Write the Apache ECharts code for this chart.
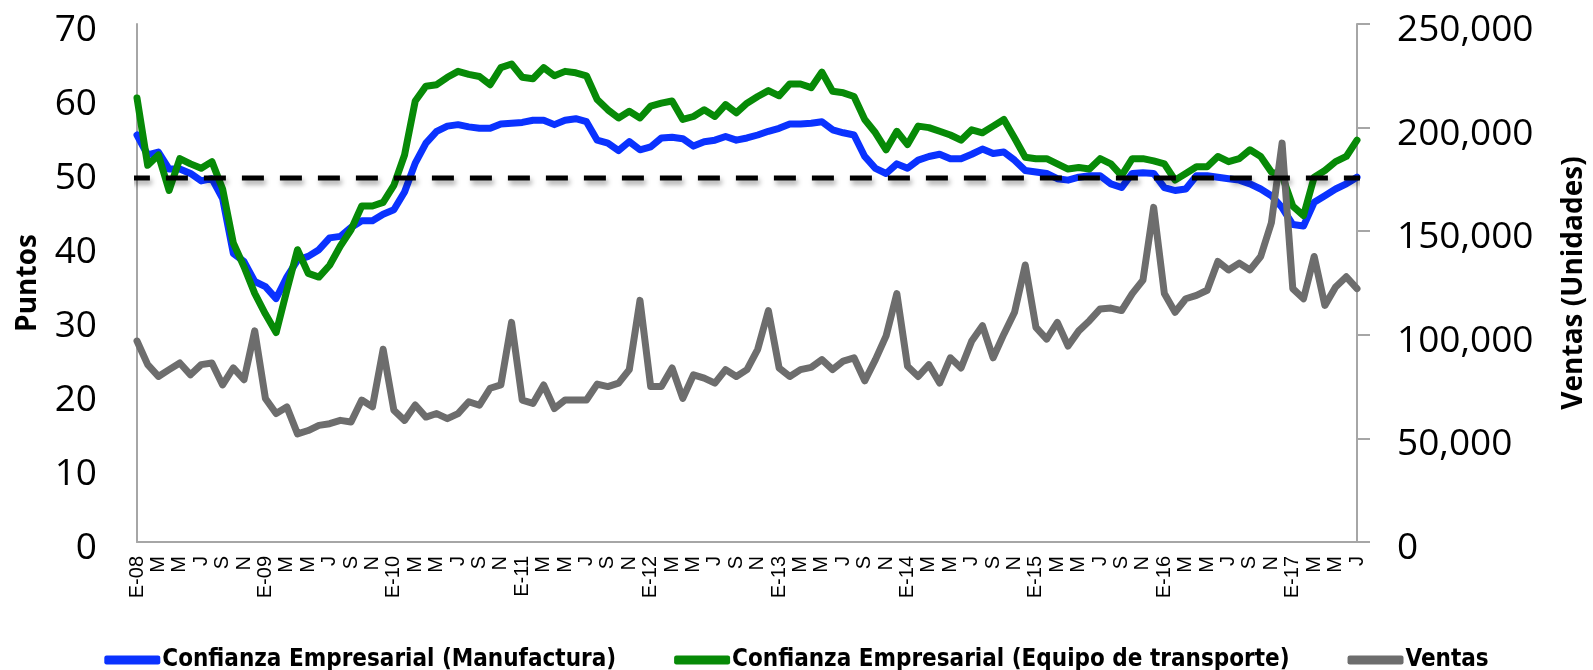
<!DOCTYPE html>
<html>
<head>
<meta charset="utf-8">
<title>Confianza Empresarial y Ventas</title>
<script src="https://cdn.jsdelivr.net/npm/echarts@6/dist/echarts.min.js"></script>
<style>
  html, body { margin: 0; padding: 0; background: #fff; }
  #chart { width: 1593px; height: 670px; }
</style>
</head>
<body>
<div id="chart"></div>
<script>
// meses (E=enero ... D=diciembre), de enero 2008 a julio 2017
const monthInitials = ['E', 'F', 'M', 'A', 'M', 'J', 'J', 'A', 'S', 'O', 'N', 'D']
const years = ['08', '09', '10', '11', '12', '13', '14', '15', '16', '17']
const lastMonthOfLastYear = 7

const categories = []
years.forEach((yy, k) => {
  const n = k === years.length - 1 ? lastMonthOfLastYear : 12
  for (let m = 0; m < n; m++) {
    categories.push(m === 0 ? 'E-' + yy : monthInitials[m])
  }
})

// Confianza Empresarial (Manufactura), puntos
const manufactura = [
  55.0, 52.3, 52.7, 50.4, 50.4, 49.8, 48.8, 49.1, 46.4, 39.0, 37.9, 35.2,
  34.5, 32.9, 35.8, 38.1, 38.6, 39.5, 41.1, 41.3, 42.5, 43.4, 43.4, 44.3,
  44.9, 47.3, 51.2, 53.9, 55.5, 56.2, 56.4, 56.1, 55.9, 55.9, 56.5, 56.6,
  56.7, 57.0, 57.0, 56.4, 57.0, 57.2, 56.8, 54.3, 53.9, 52.9, 54.1, 53.0,
  53.4, 54.6, 54.7, 54.5, 53.5, 54.1, 54.3, 54.8, 54.3, 54.6, 55.0, 55.5,
  55.9, 56.5, 56.5, 56.6, 56.8, 55.7, 55.3, 55.0, 52.1, 50.5, 49.8, 51.1,
  50.5, 51.6, 52.1, 52.4, 51.8, 51.8, 52.4, 53.1, 52.5, 52.7, 51.6, 50.2,
  50.0, 49.8, 49.1, 48.9, 49.3, 49.5, 49.5, 48.4, 47.9, 49.8, 49.9, 49.8,
  47.9, 47.5, 47.7, 49.5, 49.5, 49.3, 49.1, 48.9, 48.4, 47.7, 46.8, 45.2,
  42.9, 42.7, 45.9, 46.8, 47.7, 48.4, 49.3
]

// Confianza Empresarial (Equipo de transporte), puntos
const transporte = [
  60.0, 50.9, 52.3, 47.5, 51.8, 51.1, 50.5, 51.4, 47.7, 40.4, 37.2, 33.6,
  30.8, 28.3, 34.0, 39.5, 36.3, 35.8, 37.4, 40.0, 42.2, 45.4, 45.4, 45.9,
  48.2, 52.3, 59.6, 61.6, 61.8, 62.8, 63.6, 63.2, 62.9, 61.8, 64.1, 64.6,
  62.8, 62.6, 64.1, 63.0, 63.6, 63.4, 63.0, 59.8, 58.4, 57.3, 58.2, 57.3,
  58.9, 59.3, 59.6, 57.1, 57.5, 58.4, 57.5, 59.1, 58.0, 59.3, 60.2, 61.0,
  60.3, 61.9, 61.9, 61.4, 63.5, 60.9, 60.7, 60.2, 57.1, 55.3, 53.0, 55.5,
  53.7, 56.2, 56.0, 55.5, 55.0, 54.3, 55.7, 55.3, 56.2, 57.1, 54.6, 52.0,
  51.8, 51.8, 51.1, 50.4, 50.6, 50.4, 51.8, 51.1, 49.5, 51.8, 51.8, 51.5,
  51.1, 48.9, 49.8, 50.7, 50.7, 52.1, 51.4, 51.8, 53.0, 52.1, 50.0, 49.5,
  45.4, 44.1, 49.3, 50.2, 51.4, 52.1, 54.3
]

// Ventas, unidades (eje derecho)
const ventas = [
  97000, 85600, 79900, 83200, 86400, 80700, 85600, 86400, 75800, 84000, 78300, 101900,
  69300, 62000, 65200, 52200, 53800, 56300, 57100, 58700, 57900, 68500, 65200, 93000,
  63600, 58700, 66100, 60300, 62000, 59500, 62000, 67700, 66000, 74200, 75800, 106000,
  68500, 66900, 75800, 64400, 68500, 68500, 68500, 76200, 75000, 76700, 83200, 116600,
  75000, 75000, 84000, 69300, 80700, 79100, 76700, 83200, 79900, 83200, 93000, 111700,
  84000, 79900, 83200, 84300, 88000, 83200, 87300, 88900, 77800, 88000, 99500, 119900,
  84800, 79900, 85600, 76700, 88900, 84000, 97000, 104400, 88900, 100300, 110900, 133700,
  103600, 97900, 106000, 94600, 101900, 106800, 112500, 112900, 111700, 119900, 126400, 161500,
  119900, 110900, 117400, 119000, 121500, 135400, 131300, 134600, 131300, 137800, 154100, 192500,
  122300, 117400, 137800, 114200, 123100, 128000, 122300
]

// linea de referencia (umbral de 50 puntos) y su extension fuera del area
const umbral = 49.2
const umbralDesde = -0.85
const umbralHasta = 115.2

const chart = echarts.init(document.getElementById('chart'))

const axisGray = '#a6a6a6'
const numFont = '"Open Sans", "Liberation Sans", sans-serif'

// las etiquetas de los ejes Y quedan un poco por debajo de su marca
const tickLabelRich = {
  n: { color: '#000', fontSize: 37, fontFamily: numFont, padding: [13, 0, 0, 0] }
}

chart.setOption({
  animation: false,
  grid: {
    left: 137,
    right: 236,
    top: 24,
    bottom: 128,
    containLabel: false,
    outerBoundsMode: 'none'
  },
  legend: {
    top: 648,
    left: 'center',
    padding: 0,
    itemGap: 58,
    itemWidth: 56,
    itemHeight: 9,
    icon: 'roundRect',
    data: [
      'Confianza Empresarial (Manufactura)',
      'Confianza Empresarial (Equipo de transporte)',
      'Ventas'
    ],
    textStyle: {
      color: '#000',
      fontSize: 24,
      fontWeight: 'bold',
      fontFamily: '"Liberation Sans Narrow", "DejaVu Sans Condensed", sans-serif',
      padding: [0, 0, 0, -3]
    }
  },
  xAxis: [{
    type: 'category',
    data: categories,
    boundaryGap: false,
    axisLine: { lineStyle: { color: axisGray, width: 2 } },
    axisTick: { show: false },
    splitLine: { show: false },
    axisLabel: {
      interval: 1,
      rotate: 90,
      margin: 14,
      color: '#000',
      fontSize: 20,
      fontFamily: '"Liberation Sans", sans-serif'
    }
  }, {
    // eje auxiliar oculto para la linea punteada
    type: 'value',
    min: 0,
    max: categories.length - 1,
    show: false
  }],
  yAxis: [{
    type: 'value',
    min: 0,
    max: 70,
    interval: 10,
    name: 'Puntos',
    nameLocation: 'middle',
    nameGap: 95,
    nameRotate: 90,
    nameTextStyle: { color: '#000', fontSize: 28, fontWeight: 'bold', fontFamily: numFont },
    axisLine: { show: true, lineStyle: { color: axisGray, width: 2 } },
    axisTick: { show: false },
    splitLine: { show: false },
    axisLabel: {
      margin: 40,
      formatter: v => '{n|' + v + '}',
      rich: tickLabelRich
    }
  }, {
    type: 'value',
    min: 0,
    max: 250000,
    interval: 50000,
    position: 'right',
    name: 'Ventas (Unidades)',
    nameLocation: 'middle',
    nameGap: 203,
    nameRotate: 90,
    nameTextStyle: { color: '#000', fontSize: 28, fontWeight: 'bold', fontFamily: numFont },
    axisLine: { show: true, lineStyle: { color: axisGray, width: 2 } },
    axisTick: { show: true, inside: false, length: 13, lineStyle: { color: axisGray, width: 2 } },
    splitLine: { show: false },
    axisLabel: {
      margin: 40,
      formatter: v => '{n|' + v.toLocaleString('en-US') + '}',
      rich: tickLabelRich
    }
  }],
  series: [{
    name: 'Confianza Empresarial (Manufactura)',
    type: 'line',
    data: manufactura,
    symbol: 'none',
    z: 2,
    itemStyle: { color: '#0a32ff' },
    lineStyle: { color: '#0a32ff', width: 7, cap: 'round', join: 'round' }
  }, {
    name: 'Confianza Empresarial (Equipo de transporte)',
    type: 'line',
    data: transporte,
    symbol: 'none',
    z: 3,
    itemStyle: { color: '#078a07' },
    lineStyle: { color: '#078a07', width: 7, cap: 'round', join: 'round' }
  }, {
    name: 'Ventas',
    type: 'line',
    yAxisIndex: 1,
    data: ventas,
    symbol: 'none',
    z: 4,
    itemStyle: { color: '#6d6d6d' },
    lineStyle: { color: '#6d6d6d', width: 7, cap: 'round', join: 'round' }
  }, {
    name: 'umbral',
    type: 'line',
    xAxisIndex: 1,
    yAxisIndex: 0,
    data: [[umbralDesde, umbral], [umbralHasta, umbral]],
    symbol: 'none',
    clip: false,
    silent: true,
    z: 5,
    lineStyle: {
      color: '#000',
      width: 5,
      type: [22, 16],
      shadowColor: 'rgba(0,0,0,0.35)',
      shadowBlur: 5,
      shadowOffsetX: 2,
      shadowOffsetY: 4
    }
  }]
})
</script>
</body>
</html>
